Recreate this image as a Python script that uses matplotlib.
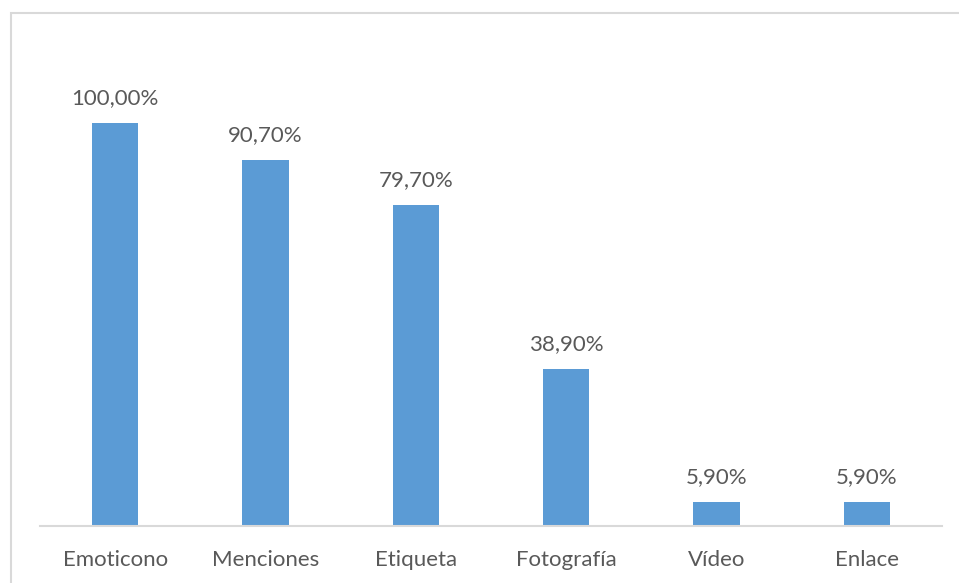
import matplotlib.pyplot as plt
from matplotlib.patches import Rectangle

# Porcentaje de uso de cada elemento
categorias = ['Emoticono', 'Menciones', 'Etiqueta', 'Fotografía', 'Vídeo', 'Enlace']
valores = [100.0, 90.7, 79.7, 38.9, 5.9, 5.9]
etiquetas = ['100,00%', '90,70%', '79,70%', '38,90%', '5,90%', '5,90%']

plt.rcParams['font.family'] = ['Lato', 'DejaVu Sans']
gris = '#595959'

fig = plt.figure(figsize=(9.59, 5.83), dpi=100)
W, H = 959, 583
ax = fig.add_axes([40 / W, (H - 526) / H, 902 / W, 403 / H])

ax.bar(range(len(categorias)), valores, width=0.31, color='#5B9BD5')
ax.set_xlim(-0.5, len(categorias) - 0.5)
ax.set_ylim(0, 100)

for i, (v, t) in enumerate(zip(valores, etiquetas)):
    ax.annotate(t, (i, v), xytext=(0, 18), textcoords='offset points',
                ha='center', va='center', fontsize=16, color=gris)

ax.set_xticks(range(len(categorias)))
ax.set_xticklabels(categorias, fontsize=16, color=gris)
ax.tick_params(axis='x', length=0, pad=17.5)
ax.set_yticks([])
for s in ['top', 'right', 'left']:
    ax.spines[s].set_visible(False)
ax.spines['bottom'].set_color('#D9D9D9')
ax.spines['bottom'].set_linewidth(1.5)

# marco gris del área del gráfico
fig.patches.append(Rectangle((11 / W, -0.05), 1.1, (H - 13) / H + 0.05,
                             transform=fig.transFigure, fill=False,
                             edgecolor='#D9D9D9', linewidth=1.5))

fig.savefig('out.png', dpi=100)
